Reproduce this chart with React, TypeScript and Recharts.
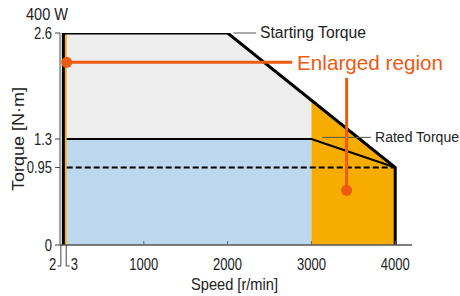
import {
  ComposedChart,
  Area,
  Line,
  XAxis,
  YAxis,
  ReferenceLine,
  ReferenceDot,
} from "recharts";

// speed [r/min] and torque [N·m]
const speedTicks = [2, 3, 1000, 2000, 3000, 4000];
const torqueTicks = [0, 0.95, 1.3, 2.6];

// outer limit (starting torque curve)
const limitSpeed = [2, 2, 2000, 4000, 4000];
const limitTorque = [0, 2.6, 2.6, 0.95, 0];

// rated torque curve
const ratedSpeed = [3, 3000, 4000];
const ratedTorque = [1.3, 1.3, 0.95];

// continuous rated torque (dashed)
const contSpeed = [3, 4000];
const contTorque = [0.95, 0.95];

// regions: [speed, low, high]
const limitedRegion = [
  [3, 1.3, 2.6],
  [2000, 1.3, 2.6],
  [3000, 1.3, 1.775],
];
const continuousRegion = [
  [3, 0, 1.3],
  [3000, 0, 1.3],
];
const enlargedRegion = [
  [3000, 0, 1.775],
  [4000, 0, 0.95],
];
const lowSpeedRegion = [
  [2, 0, 2.6],
  [3, 0, 2.6],
];

const FONT = "'Liberation Sans', Arial, sans-serif";
const ORANGE = "#ee5a12";

const toPoints = (xs: number[], ys: number[]) =>
  xs.map((speed, i) => ({ speed, torque: ys[i] }));
const toRange = (rows: number[][]) =>
  rows.map(([speed, lo, hi]) => ({ speed, range: [lo, hi] }));

// speed scale: linear, but the 0..100 r/min band is stretched so 2 and 3 r/min are visible
const LOW_KNOTS = [
  [0, 0],
  [2, 40],
  [3, 80],
  [100, 100],
];
const stretch = (v: number) => {
  if (v >= 100) return v;
  for (let i = 1; i < LOW_KNOTS.length; i++) {
    const [a, pa] = LOW_KNOTS[i - 1];
    const [b, pb] = LOW_KNOTS[i];
    if (v <= b) return pa + ((v - a) / (b - a)) * (pb - pa);
  }
  return v;
};
function makeSpeedScale(dom: number[] = [0, 4200], rng: number[] = [0, 1]): any {
  const s: any = (v: number) => {
    const t = (stretch(v) - stretch(dom[0])) / (stretch(dom[1]) - stretch(dom[0]));
    return rng[0] + t * (rng[1] - rng[0]);
  };
  s.domain = (d?: any[]) => {
    if (d === undefined) return dom;
    dom = d.map(Number);
    return s;
  };
  s.range = (r?: number[]) => {
    if (r === undefined) return rng;
    rng = r;
    return s;
  };
  s.copy = () => makeSpeedScale([...dom], [...rng]);
  s.ticks = () => speedTicks;
  return s;
}
const speedScale = makeSpeedScale();

// condensed look: squeeze text to the width it has in the reference
const NText = ({ w, size = 16, fill = "#222", children, ...rest }: any) => (
  <text
    fontFamily={FONT}
    fontSize={size}
    fill={fill}
    textLength={w}
    lengthAdjust="spacingAndGlyphs"
    {...rest}
  >
    {children}
  </text>
);
const numWidth = (s: string) =>
  s.split("").reduce((sum, c) => sum + (c === "." ? 3.6 : 7.25), 0);

const SpeedTick = (props: any) => {
  const { x, y, payload } = props;
  const v = payload.value;
  const label = String(v);
  if (v === 2) {
    return (
      <g>
        <path d={`M${x - 2.5},${y} V${y + 21} H${x - 6}`} stroke="#444" fill="none" />
        <NText x={x - 7} y={y + 25} textAnchor="end" w={numWidth(label)}>{label}</NText>
      </g>
    );
  }
  if (v === 3) {
    return (
      <g>
        <path d={`M${x - 0.5},${y} V${y + 21} H${x + 3}`} stroke="#444" fill="none" />
        <NText x={x + 4} y={y + 25} textAnchor="start" w={numWidth(label)}>{label}</NText>
      </g>
    );
  }
  return (
    <g>
      <line x1={x} y1={y} x2={x} y2={y - 4} stroke="#666" />
      <NText x={x} y={y + 25} textAnchor="middle" w={numWidth(label)}>{label}</NText>
    </g>
  );
};

const TorqueTick = (props: any) => {
  const { x, y, payload } = props;
  const label = String(payload.value);
  return (
    <NText x={x} y={y + 5.5} textAnchor="end" w={numWidth(label)}>{label}</NText>
  );
};

export default function App() {
  return (
    <div style={{ position: "absolute", left: 0, top: 0, width: 460, height: 296, background: "#fff" }}>
      <ComposedChart
        width={460}
        height={296}
        margin={{ top: 33, right: 48, bottom: 21, left: 0 }}
      >
        <XAxis
          type="number"
          dataKey="speed"
          domain={[0, 4200]}
          scale={speedScale}
          ticks={speedTicks}
          interval={0}
          allowDataOverflow
          height={30}
          tickSize={0}
          tickMargin={0}
          tickLine={false}
          tick={<SpeedTick />}
          axisLine={{ stroke: "#555", strokeWidth: 1.5 }}
        />
        <YAxis
          type="number"
          domain={[0, 2.6]}
          ticks={torqueTicks}
          interval={0}
          allowDataOverflow
          width={60}
          tickSize={5}
          tickMargin={3}
          tick={<TorqueTick />}
          tickLine={{ stroke: "#444" }}
          axisLine={{ stroke: "#444" }}
        />

        <Area data={toRange(limitedRegion)} dataKey="range" type="linear" stroke="none" fill="#ededed" fillOpacity={1} isAnimationActive={false} activeDot={false} />
        <Area data={toRange(continuousRegion)} dataKey="range" type="linear" stroke="none" fill="#bdd7ef" fillOpacity={1} isAnimationActive={false} activeDot={false} />
        <Area data={toRange(enlargedRegion)} dataKey="range" type="linear" stroke="none" fill="#f6ad00" fillOpacity={1} isAnimationActive={false} activeDot={false} />
        <Area data={toRange(lowSpeedRegion)} dataKey="range" type="linear" stroke="none" fill="#f6ad00" fillOpacity={1} isAnimationActive={false} activeDot={false} />

        <Line data={toPoints(contSpeed, contTorque)} dataKey="torque" type="linear" stroke="#000" strokeWidth={2} strokeDasharray="6 3" dot={false} activeDot={false} isAnimationActive={false} />
        <Line data={toPoints(ratedSpeed, ratedTorque)} dataKey="torque" type="linear" stroke="#000" strokeWidth={2} dot={false} activeDot={false} isAnimationActive={false} />
        <Line data={toPoints(limitSpeed, limitTorque)} dataKey="torque" type="linear" stroke="#000" strokeWidth={3} dot={false} activeDot={false} isAnimationActive={false} />

        {/* leader lines */}
        <ReferenceLine segment={[{ x: 2070, y: 2.6 }, { x: 2340, y: 2.6 }]} stroke="#555" strokeWidth={1} />
        <ReferenceLine segment={[{ x: 3130, y: 1.32 }, { x: 3710, y: 1.32 }]} stroke="#555" strokeWidth={1} />

        {/* enlarged region callouts */}
        <ReferenceLine segment={[{ x: 3, y: 2.24 }, { x: 2770, y: 2.24 }]} stroke={ORANGE} strokeWidth={3} />
        <ReferenceLine segment={[{ x: 3420, y: 2.05 }, { x: 3420, y: 0.67 }]} stroke={ORANGE} strokeWidth={3} />
        <ReferenceDot x={3} y={2.24} r={5.5} fill={ORANGE} stroke="none" />
        <ReferenceDot x={3420} y={0.67} r={5.5} fill={ORANGE} stroke="none" />

        <NText x={26} y={20} w={42}>400 W</NText>
        <NText x={260} y={38} w={106}>Starting Torque</NText>
        <NText x={375} y={142} w={84} size={14}>Rated Torque</NText>
        <NText x={297} y={70} w={146} size={21} fill={ORANGE}>Enlarged region</NText>
        <NText x={124} y={98} w={134} size={17}>Limited Duty Region</NText>
        <NText x={115} y={207} w={159} size={17}>Continuous Duty Region</NText>
        <NText x={191} y={290} w={87} size={16.5}>Speed [r/min]</NText>
        <NText x={0} y={0} w={104} size={16.5} textAnchor="middle" transform="translate(24 139) rotate(-90)">Torque [N·m]</NText>
      </ComposedChart>
    </div>
  );
}
